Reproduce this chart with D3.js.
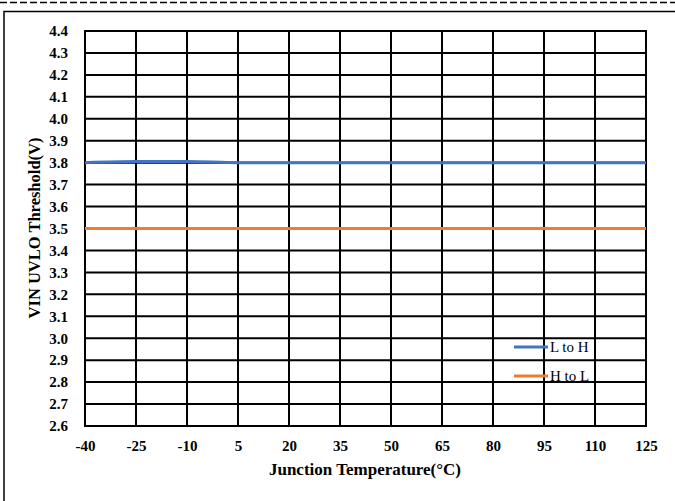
<!DOCTYPE html>
<html>
<head>
<meta charset="utf-8">
<script src="https://cdn.jsdelivr.net/npm/d3@7"></script>
<style>
  html, body { margin: 0; padding: 0; background: #fff; }
  svg { display: block; }
</style>
</head>
<body>
<svg id="chart" width="675" height="501"></svg>
<script>
// Junction temperature sample points (°C)
const temperatures = [-40, -25, -10, 5, 20, 35, 50, 65, 80, 95, 110, 125];
// VIN UVLO rising threshold (L to H), volts
const lToH = [3.800, 3.805, 3.805, 3.800, 3.800, 3.800, 3.800, 3.800, 3.800, 3.800, 3.800, 3.800];
// VIN UVLO falling threshold (H to L), volts
const hToL = [3.500, 3.500, 3.500, 3.500, 3.500, 3.500, 3.500, 3.500, 3.500, 3.500, 3.500, 3.500];
const yTicks = [2.6, 2.7, 2.8, 2.9, 3.0, 3.1, 3.2, 3.3, 3.4, 3.5, 3.6, 3.7, 3.8, 3.9, 4.0, 4.1, 4.2, 4.3, 4.4];
const seriesNames = ["L to H", "H to L"];
const seriesColors = ["#4472C4", "#ED7D31"];

const svg = d3.select("#chart");
const serif = "'Liberation Serif', 'Times New Roman', serif";

// dashed rule across the top and the frame around the figure
svg.append("line")
  .attr("x1", 0).attr("x2", 675).attr("y1", 2.5).attr("y2", 2.5)
  .attr("stroke", "#000").attr("stroke-width", 1.5)
  .attr("stroke-dasharray", "7,3");
svg.append("rect")
  .attr("x", 4).attr("y", 11.5).attr("width", 700).attr("height", 600)
  .attr("fill", "none").attr("stroke", "#000").attr("stroke-width", 1.5);

const x = d3.scaleLinear().domain([-40, 125]).range([85, 646]);
const y = d3.scaleLinear().domain([2.6, 4.4]).range([426, 31]);

// grid
const grid = svg.append("g");
grid.selectAll("line.h").data(yTicks).join("line")
  .attr("class", "h")
  .attr("x1", x(-40) - 1).attr("x2", x(125) + 1)
  .attr("y1", d => y(d)).attr("y2", d => y(d))
  .attr("stroke", "#000").attr("stroke-width", 2);
grid.selectAll("line.v").data(temperatures).join("line")
  .attr("class", "v")
  .attr("x1", d => x(d)).attr("x2", d => x(d))
  .attr("y1", y(4.4)).attr("y2", y(2.6))
  .attr("stroke", "#000").attr("stroke-width", 2);

// tick labels via d3 axes (domain and tick marks hidden, grid drawn separately)
const yAxis = svg.append("g")
  .attr("transform", `translate(${x(-40)},0)`)
  .call(d3.axisLeft(y).tickValues(yTicks).tickFormat(d3.format(".1f")).tickSize(0).tickPadding(17));
const xAxis = svg.append("g")
  .attr("transform", `translate(0,${y(2.6)})`)
  .call(d3.axisBottom(x).tickValues(temperatures).tickFormat(d => String(d)).tickSize(0).tickPadding(14));
[yAxis, xAxis].forEach(a => {
  a.attr("font-family", null).attr("font-size", null);
  a.select(".domain").remove();
  a.selectAll("text")
    .style("font-family", serif).style("font-size", "15px")
    .style("font-weight", "bold").attr("fill", "#000");
});

// series lines
const line = d3.line()
  .x((d, i) => x(temperatures[i]))
  .y(d => y(d))
  .curve(d3.curveMonotoneX);
[lToH, hToL].forEach((vals, i) => {
  svg.append("path")
    .datum(vals)
    .attr("d", line)
    .attr("fill", "none")
    .attr("stroke", seriesColors[i])
    .attr("stroke-width", 3);
});

// legend
const legend = svg.append("g").attr("transform", "translate(514,347)");
seriesNames.forEach((name, i) => {
  const g = legend.append("g").attr("transform", `translate(0,${i * 29})`);
  g.append("line").attr("x1", 0).attr("x2", 34).attr("y1", 0).attr("y2", 0)
    .attr("stroke", seriesColors[i]).attr("stroke-width", 3);
  g.append("text").attr("x", 36).attr("y", 5)
    .style("font-family", serif).style("font-size", "15px").attr("fill", "#000")
    .text(name);
});

// axis titles
svg.append("text")
  .attr("x", 365).attr("y", 475)
  .attr("text-anchor", "middle")
  .style("font-family", serif).style("font-size", "17px").style("font-weight", "bold")
  .text("Junction Temperature(°C)");
svg.append("text")
  .attr("transform", "translate(40,228) rotate(-90)")
  .attr("text-anchor", "middle")
  .style("font-family", serif).style("font-size", "16.5px").style("font-weight", "bold")
  .text("VIN UVLO Threshold(V)");
</script>
</body>
</html>
